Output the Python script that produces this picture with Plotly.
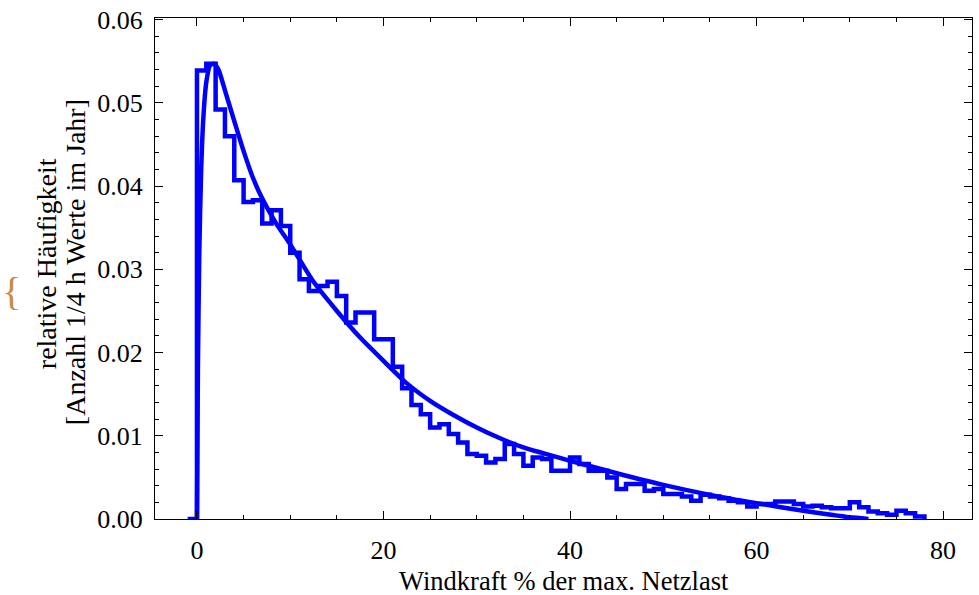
import plotly.graph_objects as go

# ---- data ----
bin_edges = list(range(-1, 79))  # bin edges in % of max. grid load
hist_values = [
    0.0,
    0.0539, 0.0547, 0.0492, 0.0460, 0.0407, 0.0381, 0.0383, 0.0355, 0.0371, 0.0352,
    0.0320, 0.0288, 0.0274, 0.0280, 0.0285, 0.0268, 0.0236, 0.0248, 0.0248, 0.0216,
    0.0216, 0.0183, 0.0157, 0.0137, 0.0126, 0.0110, 0.0114, 0.0102, 0.0092, 0.0078,
    0.0076, 0.0068, 0.0072, 0.0090, 0.0078, 0.0064, 0.0074, 0.0072, 0.0058, 0.0058,
    0.0074, 0.0066, 0.0058, 0.0058, 0.0050, 0.0036, 0.0042, 0.0042, 0.0034, 0.0036,
    0.0030, 0.0030, 0.0027, 0.0022, 0.0029, 0.0027, 0.0025, 0.0022, 0.0020, 0.0015,
    0.0018, 0.0018, 0.0021, 0.0021, 0.0018, 0.0015, 0.0016, 0.0014, 0.0013, 0.0013,
    0.0020, 0.0014, 0.0009, 0.0007, 0.0005, 0.0010, 0.0007, 0.0003,
]

fit_x = [0, 0.1, 0.25, 0.45, 0.7, 1.0, 1.4, 1.8, 2.3, 3, 4, 5, 6, 7, 8.5, 10, 12.5, 15,
         17.5, 20, 22.5, 25, 27.5, 30, 32.5, 35, 40, 45, 50, 55, 60, 65, 68, 70, 72]
fit_y = [0, 0.018, 0.032, 0.042, 0.0485, 0.0525, 0.0545, 0.0547, 0.0540, 0.0515, 0.0478,
         0.0442, 0.0410, 0.0385, 0.0355, 0.0330, 0.0285, 0.0250, 0.0218, 0.0190, 0.0163,
         0.0142, 0.0125, 0.0110, 0.0097, 0.0086, 0.0070, 0.0055, 0.0041, 0.0029, 0.0019,
         0.0010, 0.0005, 0.0002, 0.0]

x_ticks = [0, 20, 40, 60, 80]
y_ticks = [0.00, 0.01, 0.02, 0.03, 0.04, 0.05, 0.06]

x_title = "Windkraft % der max. Netzlast"
y_title_1 = "relative Häufigkeit"
y_title_2 = "[Anzahl 1/4 h Werte im Jahr]"

BLUE = "rgb(0,0,255)"
FONT = "'Liberation Serif', 'Times New Roman', Times, serif"

fig = go.Figure()

# histogram outline as a step line
step_x = bin_edges
step_y = hist_values + [0.0]
fig.add_trace(go.Scatter(x=step_x, y=step_y, mode="lines",
                         line=dict(color=BLUE, width=4.5, shape="hv"),
                         cliponaxis=False, showlegend=False))

# fitted distribution curve
fig.add_trace(go.Scatter(x=fit_x, y=fit_y, mode="lines",
                         line=dict(color=BLUE, width=4.5, shape="spline", smoothing=0.6),
                         cliponaxis=False, showlegend=False))

axis_common = dict(
    showline=True, linecolor="black", linewidth=1, mirror="ticks",
    ticks="inside", ticklen=8, tickwidth=1, tickcolor="black",
    showgrid=False, zeroline=False,
    tickfont=dict(family=FONT, size=26, color="black"),
)

fig.update_xaxes(range=[-4.5, 83.1], tickvals=x_ticks, ticktext=[str(v) for v in x_ticks],
                 minor=dict(dtick=5, tick0=0, ticks="inside", ticklen=4, tickcolor="black", showgrid=False),
                 ticklabelstandoff=8, **axis_common)
fig.update_yaxes(range=[0, 0.0602], tickvals=y_ticks, ticktext=[f"{v:.2f}" for v in y_ticks],
                 minor=dict(dtick=0.002, tick0=0, ticks="inside", ticklen=4, tickcolor="black", showgrid=False),
                 ticklabelstandoff=6, **axis_common)

fig.add_annotation(text=x_title, xref="paper", yref="paper", x=0.5, y=-0.1228,
                   xanchor="center", yanchor="middle", showarrow=False,
                   font=dict(family=FONT, size=26.5, color="black"))
fig.add_annotation(text=y_title_1, xref="paper", yref="paper", x=(46 - 155) / 818, y=(519 - 262) / 505,
                   xanchor="center", yanchor="middle", showarrow=False, textangle=-90,
                   font=dict(family=FONT, size=28, color="black"))
fig.add_annotation(text=y_title_2, xref="paper", yref="paper", x=(75 - 155) / 818, y=(519 - 260) / 505,
                   xanchor="center", yanchor="middle", showarrow=False, textangle=-90,
                   font=dict(family=FONT, size=28, color="black"))
fig.add_annotation(text="{", xref="paper", yref="paper", x=(11 - 155) / 818, y=(519 - 290) / 505,
                   xanchor="center", yanchor="middle", showarrow=False,
                   font=dict(family=FONT, size=40, color="rgb(200,140,70)"))

fig.update_layout(
    width=979, height=595,
    margin=dict(l=155, r=6, t=14, b=76),
    paper_bgcolor="white", plot_bgcolor="white",
    showlegend=False,
)

fig.write_html("out.html")
